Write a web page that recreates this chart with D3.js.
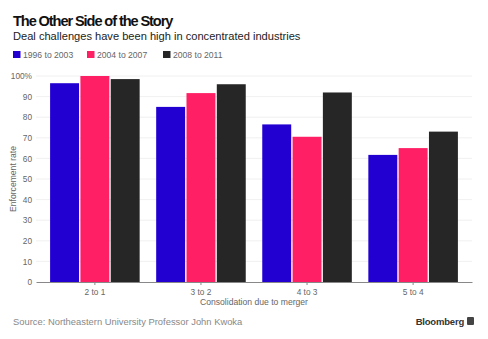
<!DOCTYPE html>
<html>
<head>
<meta charset="utf-8">
<script src="https://cdn.jsdelivr.net/npm/d3@7"></script>
<style>
  body { margin: 0; background: #fff; }
  svg { display: block; font-family: "Liberation Sans", Arial, sans-serif; }
</style>
</head>
<body>
<div id="chart"></div>
<script>
// Enforcement rate by consolidation level, three periods
const categories = ["2 to 1", "3 to 2", "4 to 3", "5 to 4"];
const periods = ["1996 to 2003", "2004 to 2007", "2008 to 2011"];
const values1996 = [96.5, 85, 76.5, 61.7];
const values2004 = [100, 91.7, 70.5, 65];
const values2008 = [98.5, 96, 92, 73];
const yTicks = [0, 10, 20, 30, 40, 50, 60, 70, 80, 90, 100];

const colors = ["#2200d2", "#ff1f65", "#262626"];
const series = [values1996, values2004, values2008];

const width = 488, height = 339;
const margin = { top: 76, right: 16, bottom: 57, left: 36 };

const svg = d3.select("#chart").append("svg")
    .attr("width", width)
    .attr("height", height);

// title + subtitle
svg.append("text")
    .attr("x", 13).attr("y", 26)
    .style("font-size", "14.6px")
    .style("font-weight", "bold")
    .style("letter-spacing", "-1.1px")
    .style("fill", "#111")
    .text("The Other Side of the Story");

svg.append("text")
    .attr("x", 13).attr("y", 40)
    .style("font-size", "11.1px")
    .style("fill", "#222")
    .text("Deal challenges have been high in concentrated industries");

// legend
const legendX = [13, 87, 163];
const legend = svg.selectAll(".legend")
    .data(periods)
    .enter().append("g")
    .attr("class", "legend")
    .attr("transform", (d, i) => `translate(${legendX[i]}, 51)`);

legend.append("rect")
    .attr("width", 7.5).attr("height", 7)
    .attr("fill", (d, i) => colors[i]);

legend.append("text")
    .attr("x", 10).attr("y", 7)
    .style("font-size", "8.6px")
    .style("fill", "#666")
    .text(d => d);

const x0 = d3.scaleBand()
    .domain(categories)
    .range([margin.left, width - margin.right])
    .paddingInner(0.13)
    .paddingOuter(0.12);

const x1 = d3.scaleBand()
    .domain(periods)
    .range([0, x0.bandwidth()])
    .padding(0.045);

const y = d3.scaleLinear()
    .domain([0, 100])
    .range([height - margin.bottom, margin.top]);

// gridlines
svg.append("g")
    .selectAll("line")
    .data(yTicks.slice(1))
    .enter().append("line")
    .attr("x1", margin.left).attr("x2", width - margin.right)
    .attr("y1", d => y(d)).attr("y2", d => y(d))
    .attr("stroke", "#ececec")
    .attr("stroke-width", 0.8);

// y axis
const yAxis = svg.append("g")
    .attr("transform", `translate(${margin.left},0)`)
    .call(d3.axisLeft(y).tickValues(yTicks).tickSize(0).tickPadding(4)
        .tickFormat(d => d === 100 ? "100%" : d));
yAxis.select(".domain").remove();
yAxis.selectAll("text")
    .style("font-size", "8.3px")
    .style("fill", "#666")
    .style("font-family", "'Liberation Sans', sans-serif");

svg.append("text")
    .attr("transform", `translate(16, ${y(50)}) rotate(-90)`)
    .attr("text-anchor", "middle")
    .style("font-size", "8.6px")
    .style("fill", "#666")
    .text("Enforcement rate");

// bars
const groups = svg.selectAll(".group")
    .data(categories)
    .enter().append("g")
    .attr("class", "group")
    .attr("transform", d => `translate(${x0(d)},0)`);

groups.selectAll("rect")
    .data((d, ci) => periods.map((p, si) => ({ period: p, value: series[si][ci], color: colors[si] })))
    .enter().append("rect")
    .attr("x", d => x1(d.period))
    .attr("width", x1.bandwidth())
    .attr("y", d => y(d.value))
    .attr("height", d => y(0) - y(d.value))
    .attr("fill", d => d.color);

// x axis
const xAxis = svg.append("g")
    .attr("transform", `translate(0,${y(0)})`)
    .call(d3.axisBottom(x0).tickSize(3).tickSizeOuter(0).tickPadding(4));
xAxis.select(".domain").attr("stroke", "#888");
xAxis.selectAll(".tick line").attr("stroke", "#888");
xAxis.selectAll("text")
    .style("font-size", "8.3px")
    .style("fill", "#666")
    .style("font-family", "'Liberation Sans', sans-serif");

svg.append("text")
    .attr("x", (margin.left + width - margin.right) / 2)
    .attr("y", 305)
    .attr("text-anchor", "middle")
    .style("font-size", "8.6px")
    .style("fill", "#666")
    .text("Consolidation due to merger");

// footer
svg.append("text")
    .attr("x", 13).attr("y", 325)
    .style("font-size", "9.4px")
    .style("fill", "#888")
    .text("Source: Northeastern University Professor John Kwoka");

svg.append("text")
    .attr("x", 464).attr("y", 325)
    .attr("text-anchor", "end")
    .style("font-size", "9.5px")
    .style("font-weight", "bold")
    .style("letter-spacing", "-0.2px")
    .style("fill", "#333")
    .text("Bloomberg");

svg.append("rect")
    .attr("x", 467).attr("y", 317)
    .attr("width", 7).attr("height", 8)
    .attr("rx", 1)
    .attr("fill", "#444");
</script>
</body>
</html>
